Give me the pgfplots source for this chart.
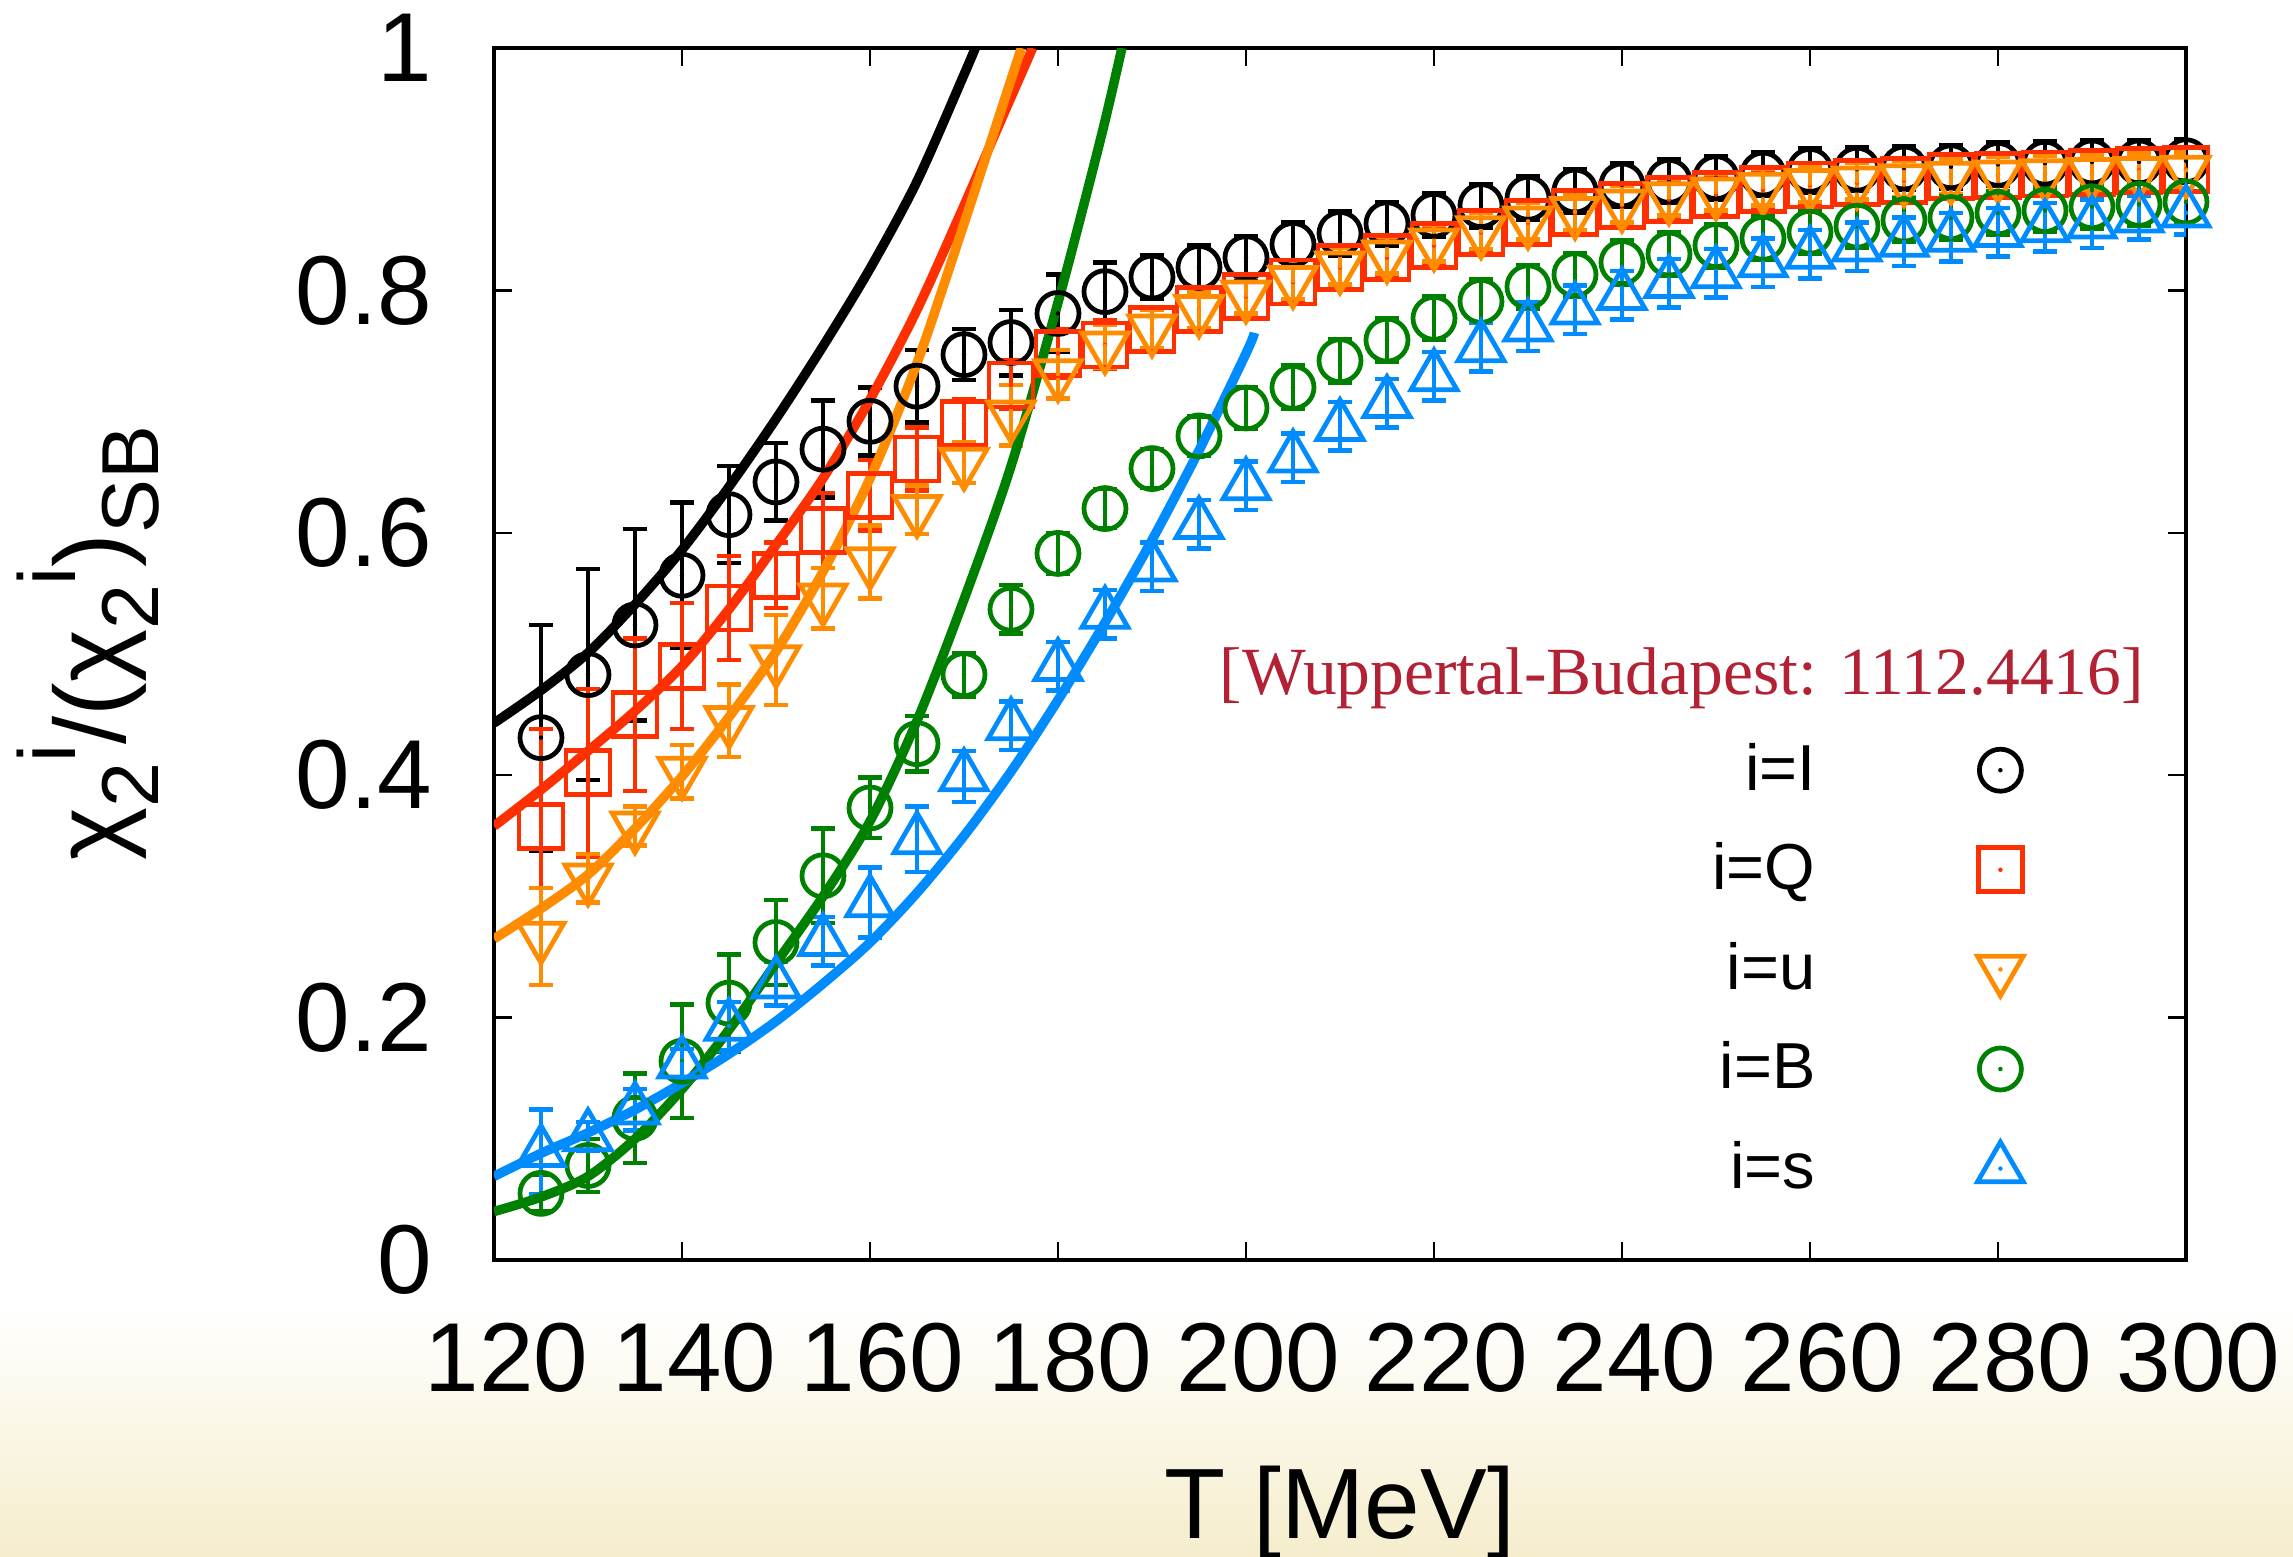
\documentclass[border=0pt]{standalone}
\usepackage{fontspec}
\setmainfont{Liberation Sans}
\newfontfamily\serifann{Liberation Serif}
\usepackage{graphicx}
\usepackage{pgfplots}
\pgfplotsset{compat=1.18}

\definecolor{cI}{RGB}{0,0,0}
\definecolor{cQ}{RGB}{255,48,0}
\definecolor{cu}{RGB}{255,140,0}
\definecolor{cB}{RGB}{0,128,0}
\definecolor{cs}{RGB}{0,140,255}
\definecolor{ann}{RGB}{178,34,52}
\definecolor{bgbot}{RGB}{245,237,204}

\pgfdeclareplotmark{ocd}{%
  \pgfpathcircle{\pgfpointorigin}{\pgfplotmarksize}\pgfusepathqstroke
  \pgfpathcircle{\pgfpointorigin}{0.45pt}\pgfusepathqfill}
\pgfdeclareplotmark{sqd}{%
  \pgfpathrectangle{\pgfpoint{-\pgfplotmarksize}{-\pgfplotmarksize}}{\pgfpoint{2\pgfplotmarksize}{2\pgfplotmarksize}}\pgfusepathqstroke
  \pgfpathcircle{\pgfpointorigin}{0.45pt}\pgfusepathqfill}
\pgfdeclareplotmark{tdd}{%
  \pgfpathmoveto{\pgfpointpolar{270}{\pgfplotmarksize}}%
  \pgfpathlineto{\pgfpointpolar{30}{\pgfplotmarksize}}%
  \pgfpathlineto{\pgfpointpolar{150}{\pgfplotmarksize}}%
  \pgfpathclose\pgfusepathqstroke
  \pgfpathcircle{\pgfpointorigin}{0.45pt}\pgfusepathqfill}
\pgfdeclareplotmark{tud}{%
  \pgfpathmoveto{\pgfpointpolar{90}{\pgfplotmarksize}}%
  \pgfpathlineto{\pgfpointpolar{210}{\pgfplotmarksize}}%
  \pgfpathlineto{\pgfpointpolar{330}{\pgfplotmarksize}}%
  \pgfpathclose\pgfusepathqstroke
  \pgfpathcircle{\pgfpointorigin}{0.45pt}\pgfusepathqfill}

\newcommand{\lsub}[1]{\raisebox{-0.32em}{\scalebox{0.8}{#1}}}
\newcommand{\lsup}[1]{\raisebox{0.5em}{\scalebox{0.8}{#1}}}

\pgfplotstableread{
x y e
125 0.431 0.093
130 0.483 0.087
135 0.524 0.079
140 0.565 0.060
145 0.615 0.040
150 0.642 0.032
155 0.669 0.040
160 0.692 0.028
165 0.721 0.030
170 0.747 0.021
175 0.757 0.027
180 0.781 0.032
185 0.799 0.024
190 0.811 0.018
195 0.819 0.018
200 0.827 0.018
205 0.838 0.018
210 0.847 0.018
215 0.855 0.018
220 0.862 0.018
225 0.870 0.018
230 0.876 0.018
235 0.882 0.018
240 0.887 0.018
245 0.890 0.018
250 0.893 0.018
255 0.896 0.018
260 0.899 0.018
265 0.900 0.018
270 0.901 0.018
275 0.902 0.018
280 0.904 0.018
285 0.905 0.018
290 0.906 0.018
295 0.906 0.018
300 0.907 0.018
}\dataI

\pgfplotstableread{
x y e
125 0.358 0.080
130 0.402 0.069
135 0.450 0.063
140 0.490 0.052
145 0.538 0.043
150 0.565 0.027
155 0.602 0.031
160 0.631 0.029
165 0.661 0.026
170 0.690 0.020
175 0.722 0.020
180 0.748 0.020
185 0.755 0.020
190 0.768 0.018
195 0.784 0.018
200 0.795 0.018
205 0.807 0.016
210 0.819 0.016
215 0.827 0.016
220 0.837 0.016
225 0.848 0.016
230 0.856 0.016
235 0.864 0.016
240 0.870 0.016
245 0.875 0.016
250 0.879 0.016
255 0.883 0.016
260 0.887 0.016
265 0.889 0.016
270 0.891 0.016
275 0.894 0.016
280 0.895 0.016
285 0.896 0.016
290 0.897 0.016
295 0.899 0.016
300 0.900 0.016
}\dataQ

\pgfplotstableread{
x y e
125 0.267 0.040
130 0.315 0.020
135 0.358 0.016
140 0.403 0.022
145 0.445 0.030
150 0.495 0.037
155 0.546 0.025
160 0.576 0.030
165 0.619 0.020
170 0.658 0.017
175 0.697 0.025
180 0.731 0.020
185 0.754 0.018
190 0.768 0.016
195 0.784 0.015
200 0.796 0.015
205 0.808 0.015
210 0.820 0.015
215 0.829 0.015
220 0.839 0.015
225 0.849 0.015
230 0.857 0.015
235 0.865 0.015
240 0.871 0.015
245 0.877 0.015
250 0.881 0.015
255 0.885 0.015
260 0.888 0.015
265 0.890 0.015
270 0.892 0.015
275 0.894 0.015
280 0.895 0.015
285 0.896 0.015
290 0.897 0.015
295 0.898 0.015
300 0.899 0.015
}\datau

\pgfplotstableread{
x y e
125 0.055 0.015
130 0.078 0.022
135 0.117 0.037
140 0.164 0.047
145 0.212 0.040
150 0.262 0.035
155 0.317 0.039
160 0.373 0.025
165 0.426 0.023
170 0.483 0.018
175 0.537 0.020
180 0.583 0.017
185 0.620 0.016
190 0.653 0.016
195 0.680 0.016
200 0.703 0.017
205 0.720 0.018
210 0.742 0.018
215 0.759 0.018
220 0.777 0.018
225 0.791 0.018
230 0.803 0.018
235 0.813 0.018
240 0.823 0.018
245 0.830 0.018
250 0.837 0.018
255 0.843 0.018
260 0.848 0.018
265 0.853 0.018
270 0.858 0.018
275 0.860 0.018
280 0.864 0.018
285 0.866 0.018
290 0.869 0.018
295 0.871 0.018
300 0.873 0.018
}\dataB

\pgfplotstableread{
x y e
125 0.089 0.035
130 0.102 0.012
135 0.124 0.017
140 0.162 0.012
145 0.193 0.020
150 0.228 0.018
155 0.263 0.020
160 0.295 0.029
165 0.347 0.027
170 0.399 0.021
175 0.441 0.020
180 0.490 0.020
185 0.533 0.020
190 0.572 0.020
195 0.607 0.020
200 0.639 0.020
205 0.662 0.020
210 0.688 0.020
215 0.707 0.020
220 0.729 0.020
225 0.753 0.020
230 0.770 0.020
235 0.784 0.020
240 0.796 0.020
245 0.806 0.020
250 0.814 0.020
255 0.823 0.020
260 0.830 0.020
265 0.836 0.020
270 0.840 0.020
275 0.844 0.020
280 0.848 0.020
285 0.852 0.020
290 0.855 0.020
295 0.860 0.018
300 0.864 0.018
}\datas

\begin{document}
\begin{tikzpicture}
\useasboundingbox (0,0) rectangle (458.6pt,-311.2pt);
\fill[white] (0,0) rectangle (458.6pt,-311.2pt);
\shade[top color=white, bottom color=bgbot] (0,-262pt) rectangle (458.6pt,-311.2pt);
\begin{axis}[
  at={(98.8pt,-252pt)}, anchor=south west,
  width=338.4pt, height=242.4pt, scale only axis,
  xmin=120, xmax=300, ymin=0, ymax=1,
  xtick={120,140,...,300},
  ytick={0,0.2,0.4,0.6,0.8,1},
  yticklabels={0,0.2,0.4,0.6,0.8,1},
  /pgf/number format/assume math mode=true,
  tick align=inside,
  major tick length=3.6pt,
  axis line style={line width=0.8pt},
  every tick/.style={black, line width=0.5pt},
  tick label style={font=\fontsize{19.6}{22}\selectfont},
  xticklabel style={anchor=north, inner sep=0pt, yshift=-12.4pt, xshift=2.5pt},
  yticklabel style={anchor=east, inner sep=0pt, xshift=-12.2pt},
  xlabel={T [MeV]},
  x label style={at={(axis description cs:0.5,0)}, anchor=base, yshift=-55.6pt, inner sep=0pt, font=\fontsize{20}{24}\selectfont},
  ylabel={χ\lsub{2}\lsup{i}/(χ\lsub{2}\lsup{i})\lsub{SB}},
  y label style={at={(axis description cs:-0.2175,0.509)}, anchor=base, rotate=0, inner sep=0pt, font=\fontsize{20.2}{24}\selectfont},
  legend style={at={(axis cs:284.4,0.444)}, anchor=north east, draw=none, fill=none,
     font=\fontsize{13}{15}\selectfont, row sep=5pt, column sep=0pt,
     /tikz/every odd column/.style={column sep=30.4pt}},
  legend cell align=right,
  legend plot pos=right,
  error bars/y dir=both, error bars/y explicit,
  error bars/error bar style={line width=0.7pt},
  error bars/error mark options={rotate=90, mark size=2.4pt, line width=0.9pt},
]
\addplot[cI, only marks, mark=ocd, mark size=4.2pt, mark options={line width=0.95pt}] table[x=x,y=y,y error=e]{\dataI};
\addlegendentry{i=I}
\addplot[cQ, only marks, mark=sqd, mark size=4.4pt, mark options={line width=0.95pt}] table[x=x,y=y,y error=e]{\dataQ};
\addlegendentry{i=Q}
\addplot[cu, only marks, mark=tdd, mark size=5.3pt, mark options={line width=0.95pt}] table[x=x,y=y,y error=e]{\datau};
\addlegendentry{i=u}
\addplot[cB, only marks, mark=ocd, mark size=4.2pt, mark options={line width=0.95pt}] table[x=x,y=y,y error=e]{\dataB};
\addlegendentry{i=B}
\addplot[cs, only marks, mark=tud, mark size=5.3pt, mark options={line width=0.95pt}] table[x=x,y=y,y error=e]{\datas};
\addlegendentry{i=s}

% HRG curves
\addplot[cI, line width=1.9pt, smooth, no marks, forget plot, error bars/y dir=none] coordinates {
(120,0.443) (125,0.470) (130,0.501) (135,0.541) (140,0.586) (145,0.638) (150,0.694) (155,0.754) (160,0.818) (165,0.890) (170,0.978) (171.2,1.0)};
\addplot[cQ, line width=1.9pt, smooth, no marks, forget plot, error bars/y dir=none] coordinates {
(120,0.358) (125,0.388) (130,0.420) (135,0.453) (140,0.490) (145,0.537) (150,0.590) (155,0.645) (160,0.710) (165,0.784) (170,0.870) (173.8,0.938) (177.3,1.0)};
\addplot[cu, line width=1.9pt, smooth, no marks, forget plot, error bars/y dir=none] coordinates {
(120,0.265) (125,0.290) (130,0.318) (135,0.356) (140,0.399) (145,0.448) (150,0.502) (155,0.568) (160,0.645) (165,0.740) (170,0.855) (174,0.950) (176.1,1.0)};
\addplot[cB, line width=1.9pt, smooth, no marks, forget plot, error bars/y dir=none] coordinates {
(120,0.040) (125,0.052) (130,0.069) (135,0.100) (140,0.141) (145,0.190) (150,0.245) (155,0.300) (160,0.362) (165,0.445) (170,0.545) (175,0.655) (180,0.790) (184.5,0.924) (186.8,1.0)};
\addplot[cs, line width=1.9pt, smooth, no marks, forget plot, error bars/y dir=none] coordinates {
(120,0.069) (125,0.088) (130,0.105) (135,0.124) (140,0.146) (145,0.170) (150,0.197) (155,0.228) (160,0.262) (165,0.303) (170,0.350) (175,0.403) (180,0.462) (185,0.526) (190,0.594) (195,0.668) (200,0.748) (200.9,0.765)};

\node[anchor=base east, inner sep=0pt, text=ann, font=\serifann\fontsize{13.5}{16}\selectfont] at (axis cs:295.6,0.467) {[Wuppertal-Budapest: 1112.4416]};
\end{axis}
\end{tikzpicture}
\end{document}
